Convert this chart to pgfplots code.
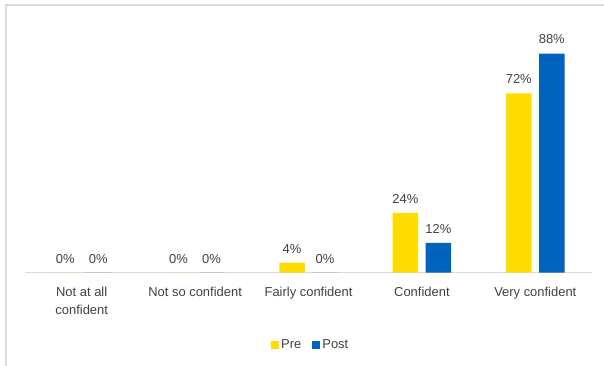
\documentclass[border=0pt]{standalone}
\usepackage{pgfplots}
\pgfplotsset{compat=1.18}
\usepackage{fontspec}
\setmainfont{Liberation Sans}
\definecolor{preY}{HTML}{FFDC00}
\definecolor{postB}{HTML}{0063BE}
\definecolor{txt}{HTML}{404040}
\definecolor{grid}{HTML}{D9D9D9}
\begin{document}
\begin{tikzpicture}
\useasboundingbox (-25bp,-93.3bp) rectangle (579bp,272.7bp);
\draw[grid, line width=1.2bp] (-19bp,-93.3bp) -- (-19bp,267.7bp) -- (579bp,267.7bp);
\begin{axis}[
  at={(0,0)}, anchor=south west,
  scale only axis, width=567bp, height=249bp,
  xmin=-0.5, xmax=4.5, ymin=0, ymax=100,
  axis y line=none, axis x line*=bottom,
  x axis line style={grid, line width=1bp, -},
  xtick={0,1,2,3,4}, xtick style={draw=none},
  xticklabels={{Not at all\\confident},{Not so confident},{Fairly confident},{Confident},{Very confident}},
  xticklabel style={align=center, font=\fontsize{13}{18}\selectfont, text=txt, anchor=north, yshift=-7bp},
  ybar, bar width=25.5bp,
  /pgf/number format/assume math mode=true,
  nodes near coords={\pgfmathprintnumber{\pgfplotspointmeta}\%},
  every node near coord/.append style={font=\fontsize{13}{14}\selectfont, text=txt, yshift=6bp},
  legend style={at={(0.504,-0.29)}, anchor=center, draw=none, legend columns=2,
    font=\fontsize{13}{14}\selectfont, text=txt,
    /tikz/every even column/.append style={column sep=9bp}},
  legend image code/.code={\fill[#1] (0bp,-4bp) rectangle (8bp,4bp);},
]
\addplot[fill=preY, draw=none, bar shift=-16.5bp] coordinates {(0,0) (1,0) (2,4) (3,24) (4,72)};
\addplot[fill=postB, draw=none, bar shift=16.5bp] coordinates {(0,0) (1,0) (2,0) (3,12) (4,88)};
\legend{Pre,Post}
\end{axis}
\end{tikzpicture}
\end{document}
